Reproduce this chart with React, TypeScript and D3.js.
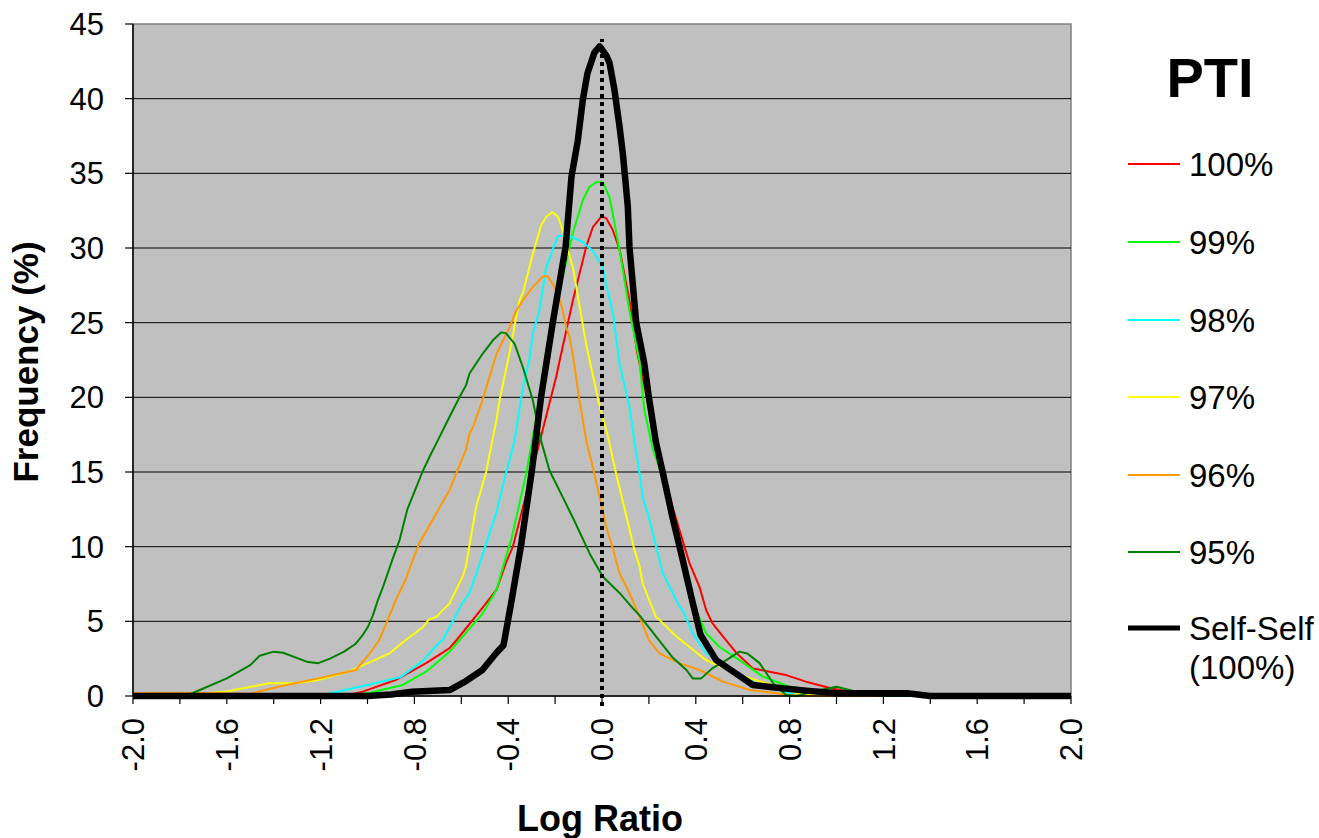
import React from "react";
import * as d3 from "d3";

type Pt = [number, number];

const xTicks = [-2.0, -1.8, -1.6, -1.4, -1.2, -1.0, -0.8, -0.6, -0.4, -0.2, 0.0, 0.2, 0.4, 0.6, 0.8, 1.0, 1.2, 1.4, 1.6, 1.8, 2.0];
const xTickLabels = ["-2.0", "-1.6", "-1.2", "-0.8", "-0.4", "0.0", "0.4", "0.8", "1.2", "1.6", "2.0"];
const yTicks = [0, 5, 10, 15, 20, 25, 30, 35, 40, 45];

const pti100: Pt[] = [[-2, 0], [-1.1, 0], [-1.02, 0.29], [-0.88, 1.07], [-0.75, 2.2], [-0.65, 3.2], [-0.62, 3.75], [-0.51, 5.9], [-0.45, 7.1], [-0.41, 8.9], [-0.38, 10.0], [-0.25, 18.0], [-0.195, 21.4], [-0.18, 22.5], [-0.124, 26.5], [-0.067, 30.1], [-0.039, 31.4], [-0.003, 32.1], [0.018, 32.0], [0.046, 31.2], [0.075, 29.9], [0.117, 26.5], [0.15, 23.0], [0.238, 16.5], [0.3, 12.7], [0.373, 8.9], [0.416, 7.3], [0.444, 5.76], [0.47, 4.9], [0.5, 4.3], [0.572, 2.9], [0.643, 1.85], [0.785, 1.4], [0.87, 0.96], [0.98, 0.5], [1.08, 0.22], [1.2, 0], [2, 0]];

const pti99: Pt[] = [[-2, 0], [-1.1, 0], [-0.99, 0.22], [-0.85, 0.74], [-0.75, 1.63], [-0.65, 2.97], [-0.51, 5.5], [-0.45, 7.1], [-0.41, 9.3], [-0.388, 10.4], [-0.323, 14.9], [-0.28, 18.7], [-0.238, 23.2], [-0.167, 28.1], [-0.124, 31.0], [-0.082, 33.2], [-0.053, 34.1], [-0.025, 34.4], [0.004, 34.4], [0.032, 33.4], [0.053, 31.7], [0.082, 29.2], [0.117, 25.8], [0.16, 22.4], [0.18, 19.2], [0.217, 16.5], [0.26, 14.6], [0.3, 11.8], [0.34, 9.3], [0.394, 6.0], [0.444, 4.2], [0.5, 3.3], [0.586, 2.4], [0.686, 1.3], [0.8, 0.62], [0.94, 0.29], [1.08, 0.1], [1.2, 0], [2, 0]];

const pti98: Pt[] = [[-2, 0], [-1.3, 0], [-1.18, 0.1], [-1.0, 0.74], [-0.86, 1.25], [-0.76, 2.4], [-0.705, 3.4], [-0.68, 3.75], [-0.636, 5.0], [-0.6, 6.1], [-0.565, 6.9], [-0.536, 8.2], [-0.494, 10.2], [-0.45, 12.3], [-0.41, 14.9], [-0.394, 15.8], [-0.373, 17.1], [-0.337, 20.7], [-0.31, 22.5], [-0.295, 24.3], [-0.267, 25.8], [-0.238, 28.7], [-0.21, 29.9], [-0.188, 30.8], [-0.139, 30.8], [-0.082, 30.4], [-0.039, 29.8], [0.003, 28.7], [0.018, 27.5], [0.046, 25.7], [0.075, 22.2], [0.117, 19.4], [0.138, 17.1], [0.16, 14.9], [0.174, 13.3], [0.195, 12.2], [0.217, 10.9], [0.245, 9.1], [0.26, 8.2], [0.33, 6.0], [0.344, 5.76], [0.387, 4.2], [0.444, 2.86], [0.558, 1.74], [0.658, 0.85], [0.8, 0.2], [0.9, 0], [2, 0]];

const pti97: Pt[] = [[-2, 0.1], [-1.8, 0.05], [-1.76, 0.1], [-1.6, 0.3], [-1.42, 0.85], [-1.31, 0.85], [-1.21, 1.07], [-1.08, 1.63], [-0.906, 2.86], [-0.837, 3.75], [-0.764, 4.6], [-0.74, 5.1], [-0.707, 5.3], [-0.65, 6.2], [-0.594, 8.0], [-0.58, 8.7], [-0.565, 10.1], [-0.536, 12.7], [-0.494, 15.0], [-0.45, 18.5], [-0.437, 19.8], [-0.394, 23.0], [-0.352, 26.5], [-0.337, 27.0], [-0.295, 29.6], [-0.26, 31.5], [-0.238, 32.1], [-0.21, 32.4], [-0.188, 32.1], [-0.167, 31.2], [-0.146, 29.9], [-0.124, 28.7], [-0.1, 26.5], [-0.067, 23.5], [-0.01, 19.4], [0.025, 17.4], [0.06, 14.9], [0.103, 12.1], [0.138, 9.8], [0.16, 8.7], [0.174, 7.5], [0.23, 5.3], [0.245, 5.1], [0.316, 4.0], [0.444, 2.4], [0.586, 1.4], [0.7, 0.85], [0.85, 0.1], [0.95, 0], [2, 0]];

const pti96: Pt[] = [[-2, 0.2], [-1.7, 0.2], [-1.5, 0.15], [-1.38, 0.62], [-1.21, 1.18], [-1.05, 1.74], [-0.99, 2.86], [-0.95, 3.75], [-0.92, 4.87], [-0.88, 6.4], [-0.837, 7.8], [-0.807, 9.1], [-0.78, 10.2], [-0.65, 13.8], [-0.58, 16.5], [-0.565, 17.6], [-0.55, 18.0], [-0.51, 19.8], [-0.45, 22.9], [-0.394, 24.7], [-0.366, 25.8], [-0.337, 26.5], [-0.295, 27.4], [-0.252, 28.1], [-0.231, 28.1], [-0.203, 27.4], [-0.18, 26.5], [-0.167, 25.8], [-0.153, 24.7], [-0.139, 24.1], [-0.124, 22.8], [-0.096, 19.8], [-0.067, 17.1], [-0.039, 15.3], [-0.01, 13.3], [0.018, 11.3], [0.046, 9.9], [0.075, 8.2], [0.117, 6.9], [0.16, 5.3], [0.2, 3.75], [0.245, 2.86], [0.33, 2.2], [0.416, 1.74], [0.516, 0.96], [0.63, 0.4], [0.8, 0.07], [0.9, 0], [2, 0]];

const pti95: Pt[] = [[-2, 0], [-1.8, 0], [-1.76, 0.1], [-1.7, 0.5], [-1.6, 1.18], [-1.5, 2.07], [-1.46, 2.7], [-1.4, 2.97], [-1.36, 2.9], [-1.26, 2.3], [-1.21, 2.2], [-1.16, 2.5], [-1.1, 2.97], [-1.05, 3.5], [-1.02, 4.1], [-0.999, 4.6], [-0.977, 5.4], [-0.956, 6.4], [-0.934, 7.3], [-0.89, 9.3], [-0.864, 10.4], [-0.83, 12.5], [-0.766, 15.0], [-0.736, 16.0], [-0.707, 16.9], [-0.65, 18.7], [-0.608, 20.0], [-0.58, 20.8], [-0.565, 21.6], [-0.51, 22.9], [-0.466, 23.8], [-0.43, 24.35], [-0.41, 24.3], [-0.373, 23.6], [-0.337, 22.0], [-0.295, 19.8], [-0.26, 17.1], [-0.224, 15.1], [-0.167, 13.3], [-0.12, 11.8], [-0.053, 9.55], [0.003, 8.0], [0.075, 6.9], [0.13, 5.9], [0.16, 5.4], [0.23, 4.0], [0.3, 2.6], [0.36, 1.74], [0.387, 1.18], [0.423, 1.18], [0.47, 1.85], [0.53, 2.4], [0.586, 2.97], [0.62, 2.85], [0.672, 2.2], [0.73, 0.85], [0.785, 0.07], [0.83, 0], [0.9, 0.3], [1.0, 0.62], [1.08, 0.3], [1.19, 0], [2, 0]];

const selfSelf: Pt[] = [[-2, 0], [-1.0, 0], [-0.9, 0.1], [-0.81, 0.29], [-0.65, 0.4], [-0.58, 1.0], [-0.51, 1.74], [-0.45, 2.9], [-0.42, 3.4], [-0.39, 6.0], [-0.345, 10.1], [-0.3, 15], [-0.26, 20], [-0.21, 25], [-0.155, 30.1], [-0.13, 34.8], [-0.103, 37.2], [-0.082, 39.9], [-0.062, 41.7], [-0.032, 43.1], [-0.01, 43.5], [0.018, 42.9], [0.032, 42.4], [0.053, 40.6], [0.075, 38.1], [0.089, 36.3], [0.11, 32.8], [0.117, 30.1], [0.146, 25], [0.18, 22.3], [0.2, 20], [0.23, 17.0], [0.26, 14.9], [0.3, 12.0], [0.34, 9.4], [0.38, 6.7], [0.42, 4.1], [0.487, 2.4], [0.572, 1.5], [0.643, 0.74], [0.727, 0.58], [0.87, 0.36], [1.0, 0.18], [1.3, 0.18], [1.4, 0], [2, 0]];

const seriesNames = ["100%", "99%", "98%", "97%", "96%", "95%", "Self-Self"];
const seriesData = [pti100, pti99, pti98, pti97, pti96, pti95, selfSelf];
const seriesColors = ["#ff0000", "#00ff00", "#00ffff", "#ffff00", "#ff9900", "#008000", "#000000"];
const seriesWidths = [2, 2, 2, 2, 2, 2, 6.5];

const FONT = "'Liberation Sans', Arial, Helvetica, sans-serif";

export default function App() {
  const W = 1319, H = 838;
  const x = d3.scaleLinear().domain([-2, 2]).range([133, 1071]);
  const y = d3.scaleLinear().domain([0, 45]).range([696, 24]);
  const line = d3.line<Pt>().x(d => x(d[0])).y(d => y(d[1])).curve(d3.curveLinear);

  const legendY = [164, 242, 320, 397, 475, 552, 628];

  return (
    <div style={{ position: "absolute", left: 0, top: 0 }}>
      <svg width={W} height={H} style={{ display: "block", background: "#fff" }}>
        <rect x={x(-2)} y={y(45)} width={x(2) - x(-2)} height={y(0) - y(45)} fill="#c0c0c0" stroke="#808080" strokeWidth={1.5} />
        {yTicks.filter(t => t > 0 && t < 45).map(t => (
          <line key={"g" + t} x1={x(-2)} x2={x(2)} y1={y(t)} y2={y(t)} stroke="#000" strokeWidth={1} />
        ))}
        {seriesData.map((s, i) => (
          <path key={seriesNames[i]} d={line(s) || ""} fill="none" stroke={seriesColors[i]} strokeWidth={seriesWidths[i]} strokeLinejoin="round" />
        ))}
        <line x1={x(0)} x2={x(0)} y1={y(0) + 10} y2={y(44)} stroke="#000" strokeWidth={4} strokeDasharray="4,4" />
        <line x1={x(-2)} x2={x(-2)} y1={y(0)} y2={y(45)} stroke="#000" strokeWidth={1.5} />
        <line x1={x(-2)} x2={x(2)} y1={y(0)} y2={y(0)} stroke="#000" strokeWidth={1.5} />
        {yTicks.map(t => (
          <g key={"yt" + t}>
            <line x1={x(-2) - 8} x2={x(-2)} y1={y(t)} y2={y(t)} stroke="#000" strokeWidth={1.2} />
            <text x={104} y={y(t)} dy="0.36em" textAnchor="end" fontFamily={FONT} fontSize={31}>{t}</text>
          </g>
        ))}
        {xTicks.map(t => (
          <line key={"xt" + t} x1={x(t)} x2={x(t)} y1={y(0)} y2={y(0) + 8} stroke="#000" strokeWidth={1.2} />
        ))}
        {xTickLabels.map(l => (
          <text key={"xl" + l} transform={`translate(${x(+l)},${718}) rotate(-90)`} dy="0.36em" textAnchor="end" fontFamily={FONT} fontSize={31}>{l}</text>
        ))}
        <text transform={`translate(${38},${362}) rotate(-90)`} textAnchor="middle" fontFamily={FONT} fontWeight="bold" fontSize={35}>Frequency (%)</text>
        <text x={600} y={831} textAnchor="middle" fontFamily={FONT} fontWeight="bold" fontSize={36}>Log Ratio</text>
        <text x={1210} y={97} textAnchor="middle" fontFamily={FONT} fontWeight="bold" fontSize={56}>PTI</text>
        {seriesNames.map((n, i) => (
          <g key={"lg" + n}>
            <line x1={1128} x2={1180} y1={legendY[i]} y2={legendY[i]} stroke={seriesColors[i]} strokeWidth={i === 6 ? 5 : 2} />
            <text x={1189} y={legendY[i]} dy="0.36em" fontFamily={FONT} fontSize={33}>{n}</text>
          </g>
        ))}
        <text x={1189} y={legendY[6] + 39} dy="0.36em" fontFamily={FONT} fontSize={33}>(100%)</text>
      </svg>
    </div>
  );
}
